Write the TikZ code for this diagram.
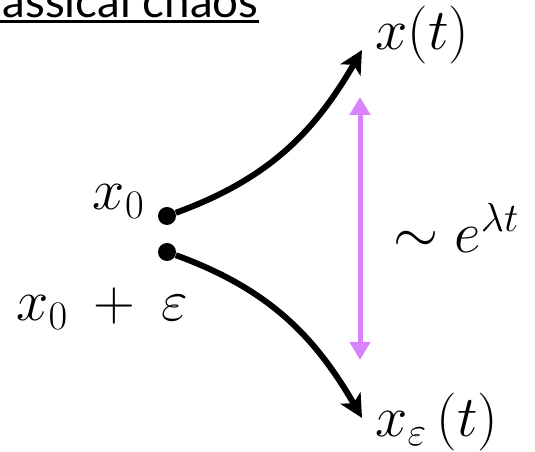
\RequirePackage{fix-cm}
\documentclass[tikz,border=0pt]{standalone}
\usepackage{amsmath}
\usepackage{fontspec}
\usepackage{xcolor}
\usepackage{tikz}
\usetikzlibrary{arrows.meta,positioning,calc}

\newfontfamily\titlefont{Lato}
\definecolor{lyap}{RGB}{217,131,250}

\begin{document}
\begin{tikzpicture}[
  x=0.02cm,y=0.02cm,
  dot/.style={circle,fill=black,inner sep=0pt,minimum size=3.6mm},
  traj/.style={-{Stealth[length=4.6mm,width=4.6mm,inset=1.2mm]},line width=1.2mm,black},
  gap/.style={{Triangle[length=3.6mm,width=4mm]}-{Triangle[length=3.6mm,width=4mm]},line width=1mm,lyap},
  lbl/.style={inner sep=0pt,font=\fontsize{33}{40}\selectfont}
]
\useasboundingbox (0,0) rectangle (535,452);
\node[inner sep=0pt,anchor=base west,font=\titlefont\fontsize{26}{31}\selectfont] (title) at (-39,434) {Classical chaos};
\draw[line width=0.6mm] ($(title.base west)+(0,-4)$) -- ($(title.base east)+(0,-4)$);
\node[dot] (p0) at (167,236) {};
\node[dot] (p1) at (167,200) {};
\node[lbl,anchor=base east] (x0) at (145,242) {$x_0$};
\node[lbl,anchor=base west] (x0e) at (16,131) {$x_0\:+\:\varepsilon$};
\node[lbl,anchor=base west] (xt) at (375,402) {$x(t)$};
\node[lbl,anchor=base west] (xet) at (375,15) {$x_\varepsilon\,(t)$};
\node[lbl,anchor=base west] (grow) at (393,199) {$\sim e^{\lambda t}$};
\coordinate (tipA) at (362,402);
\coordinate (tipB) at (362,34);
\coordinate (gapT) at (360,355);
\coordinate (gapB) at (360,92);
\draw[traj] (p0) to[out=20,in=240] (tipA);
\draw[traj] (p1) to[out=-20,in=120] (tipB);
\draw[gap] (gapB) -- (gapT);
\end{tikzpicture}
\end{document}
